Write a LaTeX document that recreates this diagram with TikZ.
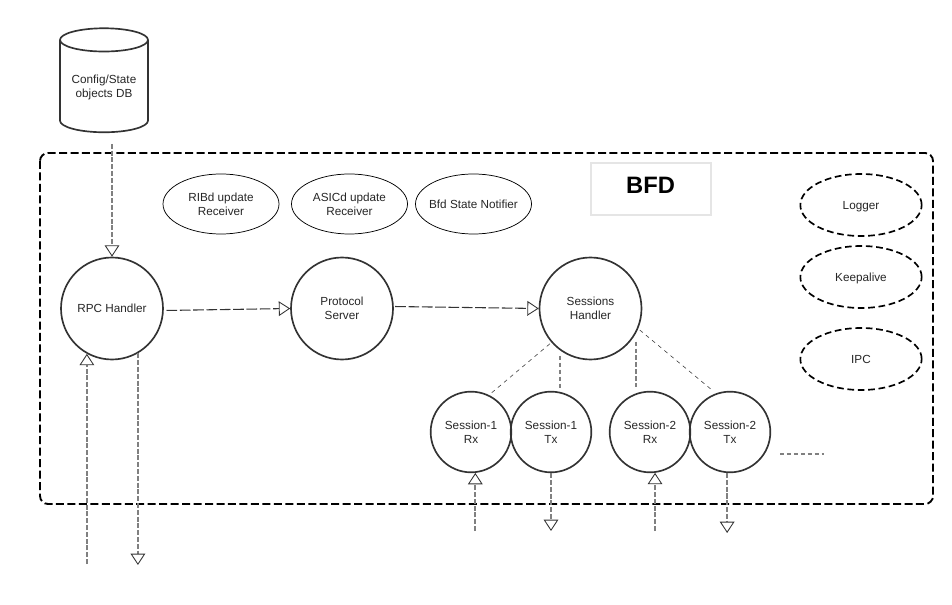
\documentclass[tikz,border=0pt]{standalone}
\usepackage{fontspec}
\setmainfont{Liberation Sans}
\usetikzlibrary{arrows.meta,shapes.geometric}
\definecolor{inkgray}{HTML}{333333}
\definecolor{flowgray}{HTML}{808080}
\tikzset{
  label font/.style={font=\fontsize{8.8}{10.5}\selectfont, text=black!85, align=center, text depth=0pt},
  task/.style={circle, draw=inkgray, line width=1.25pt, inner sep=0pt, label font},
  thread/.style={ellipse, draw=black, line width=0.55pt, inner sep=-4pt, minimum width=87pt, minimum height=45pt, label font},
  helper/.style={ellipse, draw=black, line width=1.25pt, dash pattern=on 5pt off 2.8pt, inner sep=0pt, minimum width=91pt, minimum height=46.5pt, label font},
  open tip/.style={-{Triangle[open, length=8.5pt, width=11pt, line width=0.65pt, color=inkgray]}},
  flow/.style={draw=flowgray, line width=1.25pt, dash pattern=on 3.8pt off 1.3pt, open tip},
  msg/.style={draw=inkgray, line width=0.8pt, dash pattern=on 8pt off 2pt, open tip},
  spawn/.style={draw=black!75, line width=0.45pt, dash pattern=on 3pt off 3pt},
  spawn bold/.style={draw=flowgray, line width=1.1pt, dash pattern=on 3.2pt off 2pt}
}
\begin{document}
\begin{tikzpicture}[x=0.75pt, y=-0.75pt]
    \useasboundingbox (0,0) rectangle (952,605);

    % Outer BFD process box
    \draw[black, line width=1.4pt, dash pattern=on 6pt off 2.6pt, rounded corners=6pt] (40,153) rectangle (933,504);
    \node[draw=black!10, line width=1.5pt, minimum width=90pt, minimum height=38.5pt, text depth=5pt, font=\bfseries\fontsize{17.8}{20}\selectfont] (title) at (650.5,189) {BFD};

    % Database
    \node[cylinder, shape border rotate=90, aspect=0.36, draw=inkgray, line width=1.25pt, minimum width=66pt, minimum height=78pt, inner sep=0pt, label font] (db) at (104,86.5) {Config/State\\objects DB};

    % Receivers and notifier
    \node[thread] (ribd) at (221,204) {RIBd update\\Receiver};
    \node[thread] (asicd) at (349.5,204) {ASICd update\\Receiver};
    \node[thread] (notifier) at (473.5,204) {Bfd State Notifier};

    % Helpers on the right
    \node[helper] (logger) at (861,205) {Logger};
    \node[helper] (keepalive) at (861,277) {Keepalive};
    \node[helper] (ipc) at (861,359) {IPC};

    % Main tasks
    \node[task, minimum size=76.5pt] (rpc) at (112,308.5) {RPC Handler};
    \node[task, minimum size=76.5pt] (protocol) at (342,308.5) {Protocol\\Server};
    \node[task, minimum size=76.5pt] (sessions) at (590.5,308.5) {Sessions\\Handler};

    % Session tasks
    \node[task, minimum size=60.5pt] (rxone) at (471,432) {Session-1\\Rx};
    \node[task, minimum size=60.5pt] (txone) at (551,432) {Session-1\\Tx};
    \node[task, minimum size=60.5pt] (rxtwo) at (650,432) {Session-2\\Rx};
    \node[task, minimum size=60.5pt] (txtwo) at (730,432) {Session-2\\Tx};

    % Free ends below the box
    \coordinate (rpcin) at (87,564);
    \coordinate (rpcout) at (138,565);
    \coordinate (rxonein) at (475,531);
    \coordinate (txoneout) at (551,531);
    \coordinate (rxtwoin) at (655,531);
    \coordinate (txtwoout) at (727,533);
    \coordinate (moreleft) at (780,454);
    \coordinate (moreright) at (824,454);

    % Messages between tasks
    \draw[flow, shorten <=8pt] (rpc.north |- db.bottom) -- (rpc.north);
    \draw[msg, shorten <=2pt] ([yshift=-1.5pt]rpc.east) -- (protocol.west);
    \draw[msg, shorten <=1pt] ([yshift=1.5pt]protocol.east) -- (sessions.west);
    \draw[flow] (rpcin -| rpc.241) -- (rpc.241);
    \draw[flow] (rpc.300) -- (rpc.300 |- rpcout);

    % Sessions handler spawns
    \draw[spawn, shorten <=1.5pt, shorten >=1.5pt] (sessions.221) -- (rxone.64);
    \draw[spawn bold, shorten <=4pt, shorten >=1.5pt] (sessions.234) -- (sessions.234 |- txone.77);
    \draw[spawn bold, shorten <=6pt, shorten >=4pt] (sessions.331) -- (sessions.331 |- rxtwo.112);
    \draw[spawn, shorten <=1.5pt, shorten >=4pt] (sessions.337) -- (txtwo.110);

    % Session traffic
    \draw[flow] (rxone.276 |- rxonein) -- (rxone.276);
    \draw[flow] (txone.south) -- (txone.south |- txoneout);
    \draw[flow] (rxtwo.277 |- rxtwoin) -- (rxtwo.277);
    \draw[flow] (txtwo.266) -- (txtwo.266 |- txtwoout);
    \draw[spawn bold] (moreleft) -- (moreright);
\end{tikzpicture}
\end{document}
